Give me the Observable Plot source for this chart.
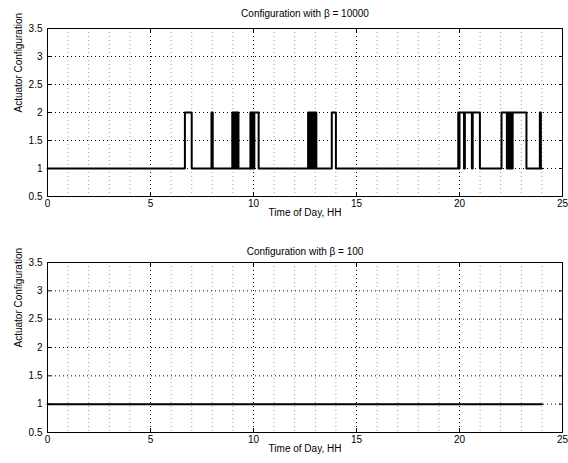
<!DOCTYPE html>
<html>
<head>
<meta charset="utf-8">
<script src="https://cdn.jsdelivr.net/npm/d3@7"></script>
<script src="https://cdn.jsdelivr.net/npm/@observablehq/plot@0.6"></script>
<style>
  body { margin: 0; background: white; }
  #chart { width: 568px; height: 463px; position: relative; }
  #chart svg { display: block; }
</style>
</head>
<body>
<div id="chart"></div>
<script>
// ---- data ----
const topTitle = "Configuration with \u03b2 = 10000";
const bottomTitle = "Configuration with \u03b2 = 100";
const xLabel = "Time of Day, HH";
const yLabel = "Actuator Configuration";

// switching times (hours) and configuration held from that time on
const topTimes = [0, 6.67, 7.0, 7.96, 8.02,
  8.97, 9.0, 9.03, 9.06, 9.09, 9.12, 9.15, 9.18, 9.21, 9.27,
  9.85, 9.88, 9.91, 9.94, 9.97, 10.0, 10.04, 10.25,
  12.65, 12.68, 12.72, 12.75, 12.79, 12.82, 12.86, 12.89, 12.93, 12.96, 13.0, 13.05,
  13.8, 14.0,
  19.94, 19.97, 20.0, 20.22, 20.26, 20.6, 20.64, 20.99,
  22.04, 22.3, 22.34, 22.38, 22.42, 22.46, 22.5, 22.54, 22.58, 23.25,
  23.9, 23.95, 24];
const topConfig = [1, 2, 1, 2, 1,
  2, 1, 2, 1, 2, 1, 2, 1, 2, 1,
  2, 1, 2, 1, 2, 1, 2, 1,
  2, 1, 2, 1, 2, 1, 2, 1, 2, 1, 2, 1,
  2, 1,
  2, 1, 2, 1, 2, 1, 2, 1,
  2, 1, 2, 1, 2, 1, 2, 1, 2, 1,
  2, 1, 1];

const bottomTimes = [0, 24];
const bottomConfig = [1, 1];

const xTicks = [0, 5, 10, 15, 20, 25];
const xMinor = [1, 2, 3, 4, 6, 7, 8, 9, 11, 12, 13, 14, 16, 17, 18, 19, 21, 22, 23, 24];
const yTicks = [0.5, 1, 1.5, 2, 2.5, 3, 3.5];

// ---- drawing ----
const font = "'Liberation Sans', Arial, Helvetica, sans-serif";

function panel(times, config, title, opts) {
  const data = times.map((t, i) => ({t, c: config[i]}));
  return Plot.plot({
    width: 568,
    height: opts.height,
    marginLeft: 47,
    marginRight: 6,
    marginTop: opts.marginTop,
    marginBottom: opts.marginBottom,
    style: {fontFamily: font, fontSize: "10px", background: "white", color: "black", overflow: "visible"},
    x: {domain: [0, 25]},
    y: {domain: [0.5, 3.5]},
    marks: [
      Plot.gridX(xMinor, {stroke: "#9a9a9a", strokeOpacity: 1, strokeDasharray: "1,3"}),
      Plot.gridX(xTicks.slice(1, -1), {stroke: "#000", strokeOpacity: 1, strokeDasharray: "1,3"}),
      Plot.gridY(yTicks.slice(1, -1), {stroke: "#000", strokeOpacity: 1, strokeDasharray: "1,3"}),
      Plot.line(data, {x: "t", y: "c", curve: "step-after", stroke: "black", strokeWidth: 2}),
      Plot.frame({stroke: "black"}),
      Plot.axisX({ticks: xTicks, tickSize: -4, tickPadding: 7, tickFormat: d => String(d), label: null}),
      Plot.axisX({ticks: xTicks, anchor: "top", tickSize: -4, tickFormat: () => "", label: null}),
      Plot.axisY({ticks: yTicks, tickSize: -4, tickPadding: 9, tickFormat: d => String(d), label: null}),
      Plot.axisY({ticks: yTicks, anchor: "right", tickSize: -4, tickFormat: () => "", label: null}),
      Plot.text([title], {text: d => d, frameAnchor: "top", dy: -opts.titleOffset, fill: "black"}),
      Plot.text([xLabel], {text: d => d, frameAnchor: "bottom", dy: 19, fill: "black"}),
      Plot.text([yLabel], {text: d => d, frameAnchor: "left", dx: -29, rotate: -90, fill: "black"})
    ]
  });
}

const chart = document.getElementById("chart");
chart.appendChild(panel(topTimes, topConfig, topTitle, {height: 232, marginTop: 28, marginBottom: 36, titleOffset: 19}));
chart.appendChild(panel(bottomTimes, bottomConfig, bottomTitle, {height: 231, marginTop: 30, marginBottom: 31, titleOffset: 15}));
</script>
</body>
</html>
